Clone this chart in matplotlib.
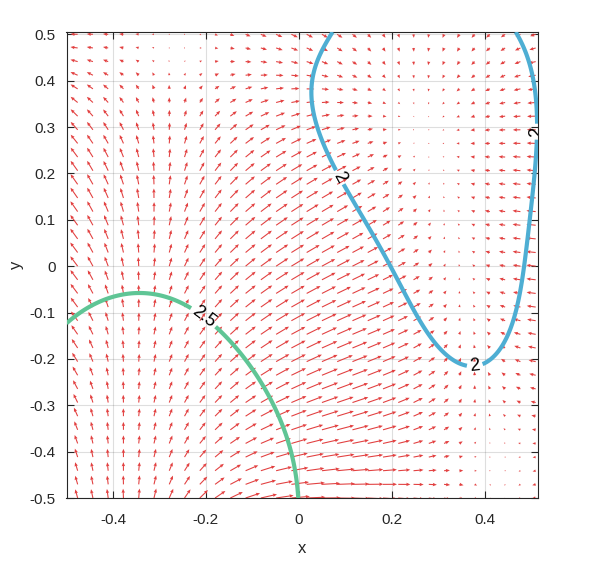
import numpy as np
import matplotlib
matplotlib.use("Agg")
import matplotlib.pyplot as plt

# ---------------- data ----------------
# arrow observations: position (x, y) and arrow (u, v) in screen pixels
arr_x = [-0.48, -0.40, -0.30, -0.22, -0.12, 0.20, 0.29, 0.37, 0.45,
         -0.48, -0.36, -0.28, -0.20, -0.10, 0.20, 0.28, 0.40, 0.50, 0.50,
         -0.48, -0.36, -0.30, -0.20, -0.10, 0.20, 0.30, 0.40, 0.50, 0.50,
         -0.48, -0.30, -0.10, 0.20, 0.50,
         -0.48, -0.32, -0.15, 0.00, 0.50,
         -0.48, -0.33, -0.20, -0.05, 0.15, 0.30, 0.50, 0.45,
         -0.48, -0.33, -0.20, -0.10, 0.00, 0.23, 0.36, 0.43, 0.49,
         0.23, 0.37, 0.43, 0.49,
         -0.48, -0.33, -0.15, 0.00, 0.15, 0.23, 0.35, 0.43, 0.49,
         0.23, 0.35, 0.40, 0.49,
         -0.45, -0.30, -0.15, 0.00, 0.15, 0.23, 0.35, 0.43, 0.49,
         -0.45, -0.30, -0.20, -0.10, 0.00, 0.10, 0.20, 0.30, 0.35, 0.43, 0.49]
arr_y = [0.50, 0.50, 0.50, 0.50, 0.50, 0.50, 0.50, 0.50, 0.50,
         0.40, 0.40, 0.40, 0.40, 0.40, 0.44, 0.44, 0.44, 0.44, 0.38,
         0.30, 0.30, 0.30, 0.30, 0.30, 0.32, 0.32, 0.32, 0.32, 0.26,
         0.20, 0.20, 0.20, 0.20, 0.20,
         0.10, 0.10, 0.10, 0.10, 0.10,
         -0.05, -0.05, -0.05, -0.05, 0.00, 0.05, 0.00, -0.10,
         -0.20, -0.20, -0.20, -0.20, -0.20, -0.17, -0.17, -0.17, -0.17,
         -0.23, -0.23, -0.23, -0.23,
         -0.30, -0.30, -0.30, -0.30, -0.30, -0.28, -0.28, -0.28, -0.28,
         -0.35, -0.35, -0.35, -0.35,
         -0.41, -0.41, -0.41, -0.41, -0.41, -0.41, -0.41, -0.41, -0.41,
         -0.47, -0.47, -0.47, -0.47, -0.47, -0.47, -0.47, -0.47, -0.47, -0.47, -0.47]
arr_u = [-7, -6, -2, 0, 2, 1, 0, -2, -4,
         -7, -4, 0, 2, 4, 1, 0, -4, -6, -7,
         -7, -4, 0, 4, 7, 1, -1, -4, -8, -8,
         -6, 0, 8, 3, -8,
         -7, 0, 6, 9, -8,
         -6, 0, 5, 9, 10, 2, -8, -5,
         -5, 0, 4, 8, 10, 5, 0, -4, -6,
         6, 0, -2, -5,
         -4, 0, 5, 11, 11, 7, 1, -1, -4,
         8, 2, 0, -3,
         -3, 0, 6, 12, 12, 9, 3, 0, -2,
         -2, 0, 4, 9, 12, 14, 11, 6, 3, -1, -2]
arr_v = [0.5, 0.5, 0, 0, -1.5, -3, -3, -3, -2,
         4, 4, 3, 4, 3, -4, -4, -3, -2, -1,
         7, 8, 8, 7, 6, 0, 0, 0, 0, 0,
         8, 10, 8, 1, 0,
         9, 11, 9, 6, 0,
         10, 12, 10, 7, 6, 3, 0.5, 2,
         10, 12, 11, 9, 7, 5, 3, 2, 1,
         4, 3, 1, 1,
         10, 11, 10, 6, 4, 3, 3, 0.5, 0.5,
         2, 1, 0, 0,
         9, 9, 8, 4, 2, 1, 0, 0, -2,
         8, 8, 8, 5, 2, 1, 0, 0, -1, -1, -2]

# contour lines
levels = [2, 2.5]
c2_x = [0.067, 0.041, 0.030, 0.041, 0.077, 0.142, 0.196, 0.260, 0.314, 0.340, 0.357,
        0.372, 0.392, 0.411, 0.443, 0.471, 0.490, 0.503, 0.512, 0.512, 0.497, 0.465]
c2_y = [0.500, 0.455, 0.379, 0.293, 0.207, 0.099, 0.002, -0.116, -0.192, -0.214, -0.224,
        -0.226, -0.222, -0.213, -0.159, -0.073, 0.034, 0.142, 0.272, 0.358, 0.444, 0.500]
c25_x = [-0.492, -0.407, -0.331, -0.234, -0.169, -0.083, -0.040, -0.012, -0.004]
c25_y = [-0.116, -0.065, -0.055, -0.084, -0.138, -0.246, -0.332, -0.418, -0.500]
# estimated values at the two saddle areas (above level 2, no contour there)
sad_x = [-0.27, -0.48, -0.12, 0.41, 0.49]
sad_y = [0.47, 0.50, 0.50, -0.37, -0.47]
sad_z = [2.2, 2.12, 2.17, 2.15, 2.12]

# label anchors
lab_pts = [(0.085, 0.19), (0.38, -0.226), (0.512, 0.29), (-0.205, -0.11)]

x_ticks = [-0.4, -0.2, 0, 0.2, 0.4]
x_ticklabels = ["-0.4", "-0.2", "0", "0.2", "0.4"]
y_ticks = [-0.5, -0.4, -0.3, -0.2, -0.1, 0, 0.1, 0.2, 0.3, 0.4, 0.5]
y_ticklabels = ["-0.5", "-0.4", "-0.3", "-0.2", "-0.1", "0", "0.1", "0.2", "0.3", "0.4", "0.5"]

# ---------------- smooth potential fitted to the readings ----------------
cc = np.arange(-0.9, 0.91, 0.3)
CX, CY = np.meshgrid(cc, cc)
CX = CX.ravel(); CY = CY.ravel()
SIG = 0.3


def basis(x, y):
    x = np.asarray(x, float).ravel()[:, None]
    y = np.asarray(y, float).ravel()[:, None]
    g = np.exp(-((x - CX) ** 2 + (y - CY) ** 2) / (2 * SIG ** 2))
    gx = -g * (x - CX) / SIG ** 2
    gy = -g * (y - CY) / SIG ** 2
    one = np.ones_like(x); zero = np.zeros_like(x)
    B = np.hstack([g, one, x, y])
    Bx = np.hstack([gx, zero, one, zero])
    By = np.hstack([gy, zero, zero, one])
    return B, Bx, By


nb = len(CX) + 3
rows, rhs = [], []
_, Bx, By = basis(arr_x, arr_y)
u = np.array(arr_u, float)[:, None]; v = np.array(arr_v, float)[:, None]
rows.append(np.hstack([-Bx, -u])); rhs.append(np.zeros(len(arr_x)))
rows.append(np.hstack([-By, -v])); rhs.append(np.zeros(len(arr_x)))
WL = 30.0
for lx, ly, L, w in [(c2_x, c2_y, levels[0], WL), (c25_x, c25_y, levels[1], WL),
                     (sad_x, sad_y, np.array(sad_z), 6.0)]:
    B, _, _ = basis(lx, ly)
    rows.append(w * np.hstack([B, np.zeros((len(lx), 1))]))
    rhs.append(w * L * np.ones(len(lx)))
lam = 0.005
R = np.zeros((nb, nb + 1)); R[:, :nb] = lam * np.eye(nb)
rows.append(R); rhs.append(np.zeros(nb))
A = np.vstack(rows); b = np.concatenate(rhs)
sol, *_ = np.linalg.lstsq(A, b, rcond=None)
coef, kscale = sol[:nb], sol[nb]

# ---------------- figure ----------------
plt.rcParams["font.family"] = ["Liberation Sans", "DejaVu Sans"]
plt.rcParams["axes.unicode_minus"] = False

fig = plt.figure(figsize=(5.94, 5.82), dpi=100)
ax = fig.add_axes([66.5 / 594, 84 / 582, (538 - 66.5) / 594, (498 - 32) / 582])

qx, qy = np.meshgrid(np.linspace(-0.476, 0.51, 31), np.linspace(-0.5, 0.5, 35))
_, Qx, Qy = basis(qx, qy)
U = -(Qx @ coef).reshape(qx.shape)
V = -(Qy @ coef).reshape(qx.shape)
ax.quiver(qx, qy, U, V, color="#e24040", angles="xy", scale_units="xy",
          scale=465 * kscale / 1.1, width=0.0023, headwidth=3.2, headlength=3.8,
          headaxislength=3.4, zorder=2)

gx, gy = np.meshgrid(np.linspace(-0.5, 0.515, 240), np.linspace(-0.5, 0.505, 240))
Bg, _, _ = basis(gx, gy)
Z = (Bg @ coef).reshape(gx.shape)
cs = ax.contour(gx, gy, Z, levels=levels, colors=["#4eaed3", "#5fc595"],
                linewidths=3, zorder=3)
ax.clabel(cs, fmt="%g", fontsize=13, inline=True, inline_spacing=3,
          manual=lab_pts, colors="black")

ax.set_xlim(-0.5, 0.515)
ax.set_ylim(-0.5, 0.505)
ax.set_xticks(x_ticks); ax.set_xticklabels(x_ticklabels)
ax.set_yticks(y_ticks); ax.set_yticklabels(y_ticklabels)
ax.tick_params(axis="both", direction="in", length=5, width=0.8, labelsize=11,
               colors="#262626", top=True, right=True)
ax.tick_params(axis="x", pad=11)
ax.tick_params(axis="y", pad=8)
ax.grid(True, color="#262626", alpha=0.15, linewidth=0.8)
ax.set_axisbelow(True)
for s in ax.spines.values():
    s.set_color("#262626"); s.set_linewidth(0.8)
ax.set_xlabel("x", fontsize=12, color="#262626", labelpad=10)
ax.set_ylabel("y", fontsize=12, color="#262626", labelpad=4)

fig.savefig("out.png", dpi=100)
